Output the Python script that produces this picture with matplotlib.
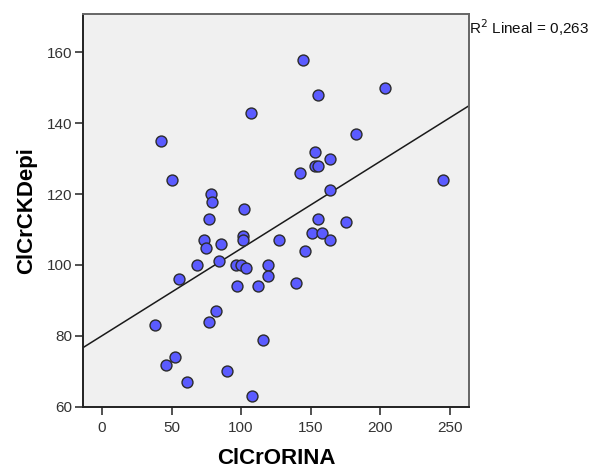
import numpy as np
import matplotlib
matplotlib.use("Agg")
import matplotlib.pyplot as plt

plt.rcParams["font.family"] = ["Liberation Sans", "DejaVu Sans"]

# values
clcr_orina = [
    50.4, 78.2, 79.4, 102.4, 77.2, 101.2, 101.4, 73.4, 74.6, 85.4, 127.5,
    68.3, 84.0, 96.2, 100.2, 103.6, 119.2, 119.2, 55.4, 97.0, 112.2,
    155.4, 183.0, 153.2, 164.0, 153.5, 155.6, 142.2, 164.0, 155.2, 175.3,
    151.1, 158.5, 164.0, 146.3, 139.3,
    144.4, 203.4, 245.1,
    42.4, 107.0,
    38.4, 82.2, 77.2, 116.0, 52.8, 45.8, 89.9, 61.4, 108.1,
]
clcr_ckdepi = [
    124.0, 120.0, 117.8, 115.9, 112.9, 108.1, 107.0, 107.1, 104.9, 106.0, 107.0,
    99.9, 101.0, 100.0, 99.9, 99.0, 100.0, 97.0, 96.0, 94.1, 94.1,
    147.9, 136.9, 131.9, 129.9, 127.9, 127.9, 126.0, 121.1, 113.0, 112.0,
    108.9, 108.9, 107.0, 104.0, 95.0,
    157.8, 149.8, 123.9,
    134.9, 142.9,
    83.0, 86.9, 83.9, 78.9, 73.9, 71.9, 70.0, 67.0, 63.0,
]
x_ticks = [0, 50, 100, 150, 200, 250]
y_ticks = [60, 80, 100, 120, 140, 160]
r2_label = "R$^2$ Lineal = 0,263"

x = np.array(clcr_orina)
y = np.array(clcr_ckdepi)

fig = plt.figure(figsize=(5.92, 4.70), dpi=100)
ax = fig.add_axes([0.1402, 0.1347, 0.652, 0.8355])
ax.set_facecolor("#f0f0f0")

xlim = (-13.7, 264)
ylim = (60, 170.8)

# least squares fit line across the whole axis
slope, intercept = np.polyfit(x, y, 1)
xx = np.array(xlim)
ax.plot(xx, slope * xx + intercept, color="#1a1a1a", lw=1.1, zorder=2)

ax.scatter(x, y, s=62, c="#5b5bff", edgecolors="#2b2b2b", linewidths=1.0, zorder=3)

ax.set_xlim(*xlim)
ax.set_ylim(*ylim)
ax.set_xticks(x_ticks)
ax.set_yticks(y_ticks)
ax.tick_params(direction="out", length=6, width=1.1, labelsize=11,
               labelcolor="#333333", color="#222222")
ax.tick_params(axis="x", pad=4)
ax.tick_params(axis="y", pad=2)

for side in ["left", "bottom"]:
    ax.spines[side].set_color("#222222")
    ax.spines[side].set_linewidth(1.4)
for side in ["top", "right"]:
    ax.spines[side].set_color("#666666")
    ax.spines[side].set_linewidth(1.4)

ax.set_xlabel("ClCrORINA", fontsize=16, fontweight="bold", labelpad=9.5)
ax.set_ylabel("ClCrCKDepi", fontsize=16, fontweight="bold", labelpad=7)

ax.text(1.0, 0.964, r2_label, transform=ax.transAxes, ha="left", va="center",
        fontsize=11, color="#111111")

fig.savefig("out.png", dpi=100)
